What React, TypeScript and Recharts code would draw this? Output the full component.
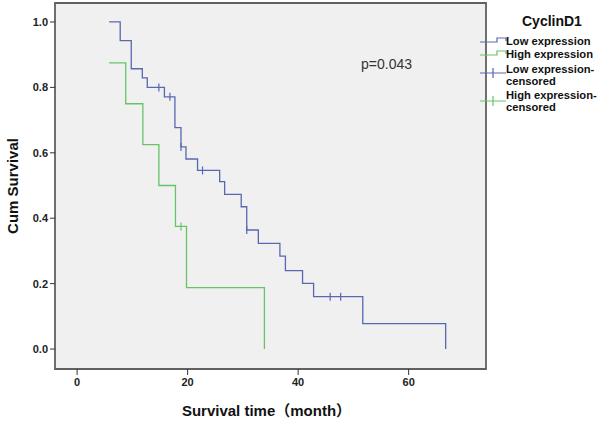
import React from 'react';
import {
  ComposedChart,
  Line,
  Scatter,
  XAxis,
  YAxis,
  ReferenceArea,
} from 'recharts';

// Kaplan-Meier steps
const lowTimes = [5.8, 7.8, 9.8, 11.8, 12.7, 15.8, 17.7, 18.8, 19.7, 21.8, 25.8, 26.7, 29.7, 30.7, 32.8, 36.7, 37.7, 40.8, 42.8, 51.7, 66.7];
const lowSurvival = [1.0, 0.943, 0.857, 0.829, 0.8, 0.771, 0.677, 0.618, 0.581, 0.546, 0.512, 0.473, 0.435, 0.364, 0.323, 0.284, 0.24, 0.201, 0.16, 0.078, 0];
const highTimes = [5.8, 8.8, 11.9, 14.8, 17.8, 19.8, 33.9];
const highSurvival = [0.875, 0.75, 0.625, 0.5, 0.375, 0.1875, 0];

const lowCensorTimes = [14.8, 16.8, 18.8, 22.7, 30.7, 45.8, 47.7];
const lowCensorSurvival = [0.8, 0.771, 0.618, 0.546, 0.364, 0.16, 0.16];
const highCensorTimes = [18.8];
const highCensorSurvival = [0.375];

const xTicks = [0, 20, 40, 60];
const yTicks = [0, 0.2, 0.4, 0.6, 0.8, 1.0];

const BLUE = '#5868b0';
const GREEN = '#66c466';
const FONT = '"Liberation Sans", Arial, "Noto Sans CJK SC", sans-serif';

const toPoints = (ts: number[], ss: number[]) => ts.map((t, i) => ({ t, s: ss[i] }));

const lowData = toPoints(lowTimes, lowSurvival);
const highData = toPoints(highTimes, highSurvival);
const lowCensor = toPoints(lowCensorTimes, lowCensorSurvival);
const highCensor = toPoints(highCensorTimes, highCensorSurvival);

const censorMark = (color: string) => (props: any) => {
  const { cx, cy } = props;
  return <line x1={cx} x2={cx} y1={cy - 4} y2={cy + 4} stroke={color} strokeWidth={1.2} />;
};

const tickStyle = { fontFamily: FONT, fontSize: 11, fontWeight: 700, fill: '#222' };

function LegendBox() {
  const row: React.CSSProperties = {
    position: 'absolute',
    left: 26,
    fontFamily: FONT,
    fontSize: 11.2,
    fontWeight: 700,
    lineHeight: '12px',
    color: '#111',
    whiteSpace: 'nowrap',
  };
  return (
    <div style={{ position: 'absolute', left: 480, top: 0, width: 120, height: 130 }}>
      <div style={{ position: 'absolute', left: 42, top: 13, fontFamily: FONT, fontSize: 14, fontWeight: 700, color: '#111' }}>
        CyclinD1
      </div>
      <svg width={30} height={120} style={{ position: 'absolute', left: 0, top: 0 }}>
        <path d="M0,42 H17 V38 H26 V41" fill="none" stroke={BLUE} strokeWidth={1.2} />
        <path d="M0,55 H17 V51 H26 V54" fill="none" stroke={GREEN} strokeWidth={1.2} />
        <path d="M0,73 H26 M13,68 V78" fill="none" stroke={BLUE} strokeWidth={1.2} />
        <path d="M0,101 H26 M13,96 V106" fill="none" stroke={GREEN} strokeWidth={1.2} />
      </svg>
      <div style={{ ...row, top: 35 }}>Low expression</div>
      <div style={{ ...row, top: 48 }}>High expression</div>
      <div style={{ ...row, top: 63 }}>Low expression-<br />censored</div>
      <div style={{ ...row, top: 89 }}>High expression-<br />censored</div>
    </div>
  );
}

export default function App() {
  return (
    <div style={{ position: 'absolute', left: 0, top: 0, width: 600, height: 421, background: '#fff' }}>
      <ComposedChart width={600} height={421} margin={{ top: 3, right: 114, bottom: 0, left: 0 }}>
        <ReferenceArea x1={-4} x2={74} y1={-0.061} y2={1.058} fill="#f0f0f0" fillOpacity={1} stroke="#606060" strokeWidth={1.8} />
        <XAxis
          type="number"
          dataKey="t"
          domain={[-4, 74]}
          ticks={xTicks}
          allowDataOverflow
          height={52}
          axisLine={false}
          tickSize={6}
          tickMargin={3}
          tickLine={{ stroke: '#333' }}
          tick={tickStyle}
          label={{
            value: 'Survival time（month）',
            position: 'insideBottom',
            offset: 5,
            dx: -4,
            style: { fontFamily: FONT, fontSize: 15, fontWeight: 700, fill: '#111' },
          }}
        />
        <YAxis
          type="number"
          dataKey="s"
          domain={[-0.061, 1.058]}
          ticks={yTicks}
          allowDataOverflow
          width={55}
          axisLine={false}
          tickSize={5}
          tickMargin={2}
          tickLine={{ stroke: '#333' }}
          tick={tickStyle}
          tickFormatter={(v: number) => v.toFixed(1)}
          label={{
            content: (p: any) => {
              const vb = p.viewBox || {};
              const cy = (vb.y ?? 3) + (vb.height ?? 366) / 2;
              return (
                <text
                  x={12}
                  y={cy}
                  transform={`rotate(-90 12 ${cy})`}
                  textAnchor="middle"
                  dominantBaseline="central"
                  style={{ fontFamily: FONT, fontSize: 15, fontWeight: 700, fill: '#111' }}
                >
                  Cum Survival
                </text>
              );
            },
          }}
        />
        <Line data={lowData} dataKey="s" type="stepAfter" stroke={BLUE} strokeWidth={1.3} dot={false} isAnimationActive={false} />
        <Line data={highData} dataKey="s" type="stepAfter" stroke={GREEN} strokeWidth={1.3} dot={false} isAnimationActive={false} />
        <Scatter data={lowCensor} dataKey="s" shape={censorMark(BLUE)} isAnimationActive={false} />
        <Scatter data={highCensor} dataKey="s" shape={censorMark(GREEN)} isAnimationActive={false} />
      </ComposedChart>
      <div style={{ position: 'absolute', left: 361, top: 56, fontFamily: FONT, fontSize: 14, color: '#333' }}>p=0.043</div>
      <LegendBox />
    </div>
  );
}
